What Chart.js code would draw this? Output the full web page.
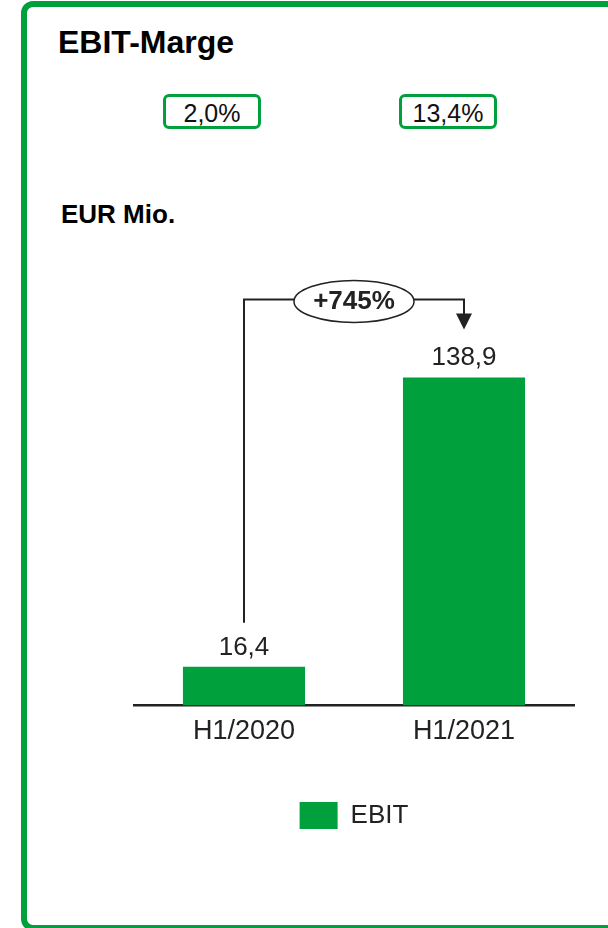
<!DOCTYPE html>
<html>
<head>
<meta charset="utf-8">
<script src="https://cdn.jsdelivr.net/npm/chart.js@4"></script>
<style>
    html, body { margin: 0; padding: 0; background: #fff; }
    body { width: 608px; height: 928px; position: relative; overflow: hidden; font-family: 'Liberation Sans', Arial, sans-serif; }
    .frame { position: absolute; left: 21px; top: 1px; width: 640px; height: 930px; box-sizing: border-box; border: 6px solid #00a03c; border-radius: 12px; }
    .title { position: absolute; left: 58px; top: 26px; font-size: 32px; line-height: 32px; font-weight: bold; color: #000; }
    .unit { position: absolute; left: 61px; top: 201px; font-size: 26px; line-height: 26px; font-weight: bold; color: #000; }
    .margin-box { position: absolute; top: 94px; width: 98px; height: 35px; box-sizing: border-box; border: 3px solid #00a03c; border-radius: 6px;
        padding-top: 2px; line-height: 29px; font-size: 25px; text-align: center; color: #111; }
    #chart { position: absolute; left: 0; top: 0; }
</style>
</head>
<body>
<div class="frame"></div>
<div class="title">EBIT-Marge</div>
<div class="margin-box" id="m0" style="left: 163px;"></div>
<div class="margin-box" id="m1" style="left: 399px;"></div>
<div class="unit">EUR Mio.</div>
<canvas id="chart" width="608" height="928"></canvas>
<script>
const categories = ['H1/2020', 'H1/2021'];
const ebitValues = [16.4, 138.9];
const marginLabels = ['2,0%', '13,4%'];
const changeLabel = '+745%';
const seriesName = 'EBIT';

const GREEN = '#00a03c';
const INK = '#222';
const FONT = "'Liberation Sans', Arial, sans-serif";

marginLabels.forEach((t, i) => { document.getElementById('m' + i).textContent = t; });

const fmt = v => v.toFixed(1).replace('.', ',');

// value labels above bars
const valueLabels = {
    id: 'valueLabels',
    afterDatasetsDraw(chart) {
        const ctx = chart.ctx;
        const meta = chart.getDatasetMeta(0);
        ctx.save();
        ctx.font = '26px ' + FONT;
        ctx.fillStyle = INK;
        ctx.textAlign = 'center';
        ctx.textBaseline = 'alphabetic';
        meta.data.forEach((bar, i) => {
            ctx.fillText(fmt(ebitValues[i]), bar.x, bar.y - 12);
        });
        ctx.restore();
    }
};

// bracket with growth ellipse between the two bars
const growthBracket = {
    id: 'growthBracket',
    afterDatasetsDraw(chart) {
        const ctx = chart.ctx;
        const meta = chart.getDatasetMeta(0);
        const a = meta.data[0], b = meta.data[1];
        const lineY = b.y - 78;
        const startY = a.y - 44;
        const tipY = b.y - 48;
        const midX = (a.x + b.x) / 2;
        ctx.save();
        ctx.strokeStyle = INK;
        ctx.fillStyle = INK;
        ctx.lineWidth = 2;
        ctx.beginPath();
        ctx.moveTo(a.x, startY);
        ctx.lineTo(a.x, lineY);
        ctx.lineTo(b.x, lineY);
        ctx.lineTo(b.x, tipY - 14);
        ctx.stroke();
        ctx.beginPath();
        ctx.moveTo(b.x - 8, tipY - 16);
        ctx.lineTo(b.x + 8, tipY - 16);
        ctx.lineTo(b.x, tipY);
        ctx.closePath();
        ctx.fill();
        ctx.beginPath();
        ctx.ellipse(midX, lineY + 2, 60, 21, 0, 0, Math.PI * 2);
        ctx.fillStyle = '#fff';
        ctx.fill();
        ctx.lineWidth = 1.5;
        ctx.stroke();
        ctx.fillStyle = INK;
        ctx.font = 'bold 26px ' + FONT;
        ctx.textAlign = 'center';
        ctx.textBaseline = 'middle';
        ctx.fillText(changeLabel, midX, lineY + 2);
        ctx.restore();
    }
};

new Chart(document.getElementById('chart'), {
    type: 'bar',
    data: {
        labels: categories,
        datasets: [{
            label: seriesName,
            data: ebitValues,
            backgroundColor: GREEN,
            borderWidth: 0,
            categoryPercentage: 1,
            barPercentage: 0.555
        }]
    },
    options: {
        responsive: false,
        animation: false,
        layout: { padding: { left: 134, right: 34, top: 233, bottom: 89 } },
        scales: {
            x: {
                grid: { display: false, drawTicks: false },
                border: { display: true, color: INK, width: 2.5 },
                ticks: { color: INK, font: { family: FONT, size: 27 }, padding: 10 }
            },
            y: { display: false, min: 0, max: 200 }
        },
        plugins: {
            legend: {
                position: 'bottom',
                fullSize: false,
                labels: {
                    boxWidth: 38,
                    boxHeight: 27,
                    padding: 44,
                    color: INK,
                    font: { family: FONT, size: 26 }
                }
            },
            tooltip: { enabled: false }
        }
    },
    plugins: [valueLabels, growthBracket]
});
</script>
</body>
</html>
